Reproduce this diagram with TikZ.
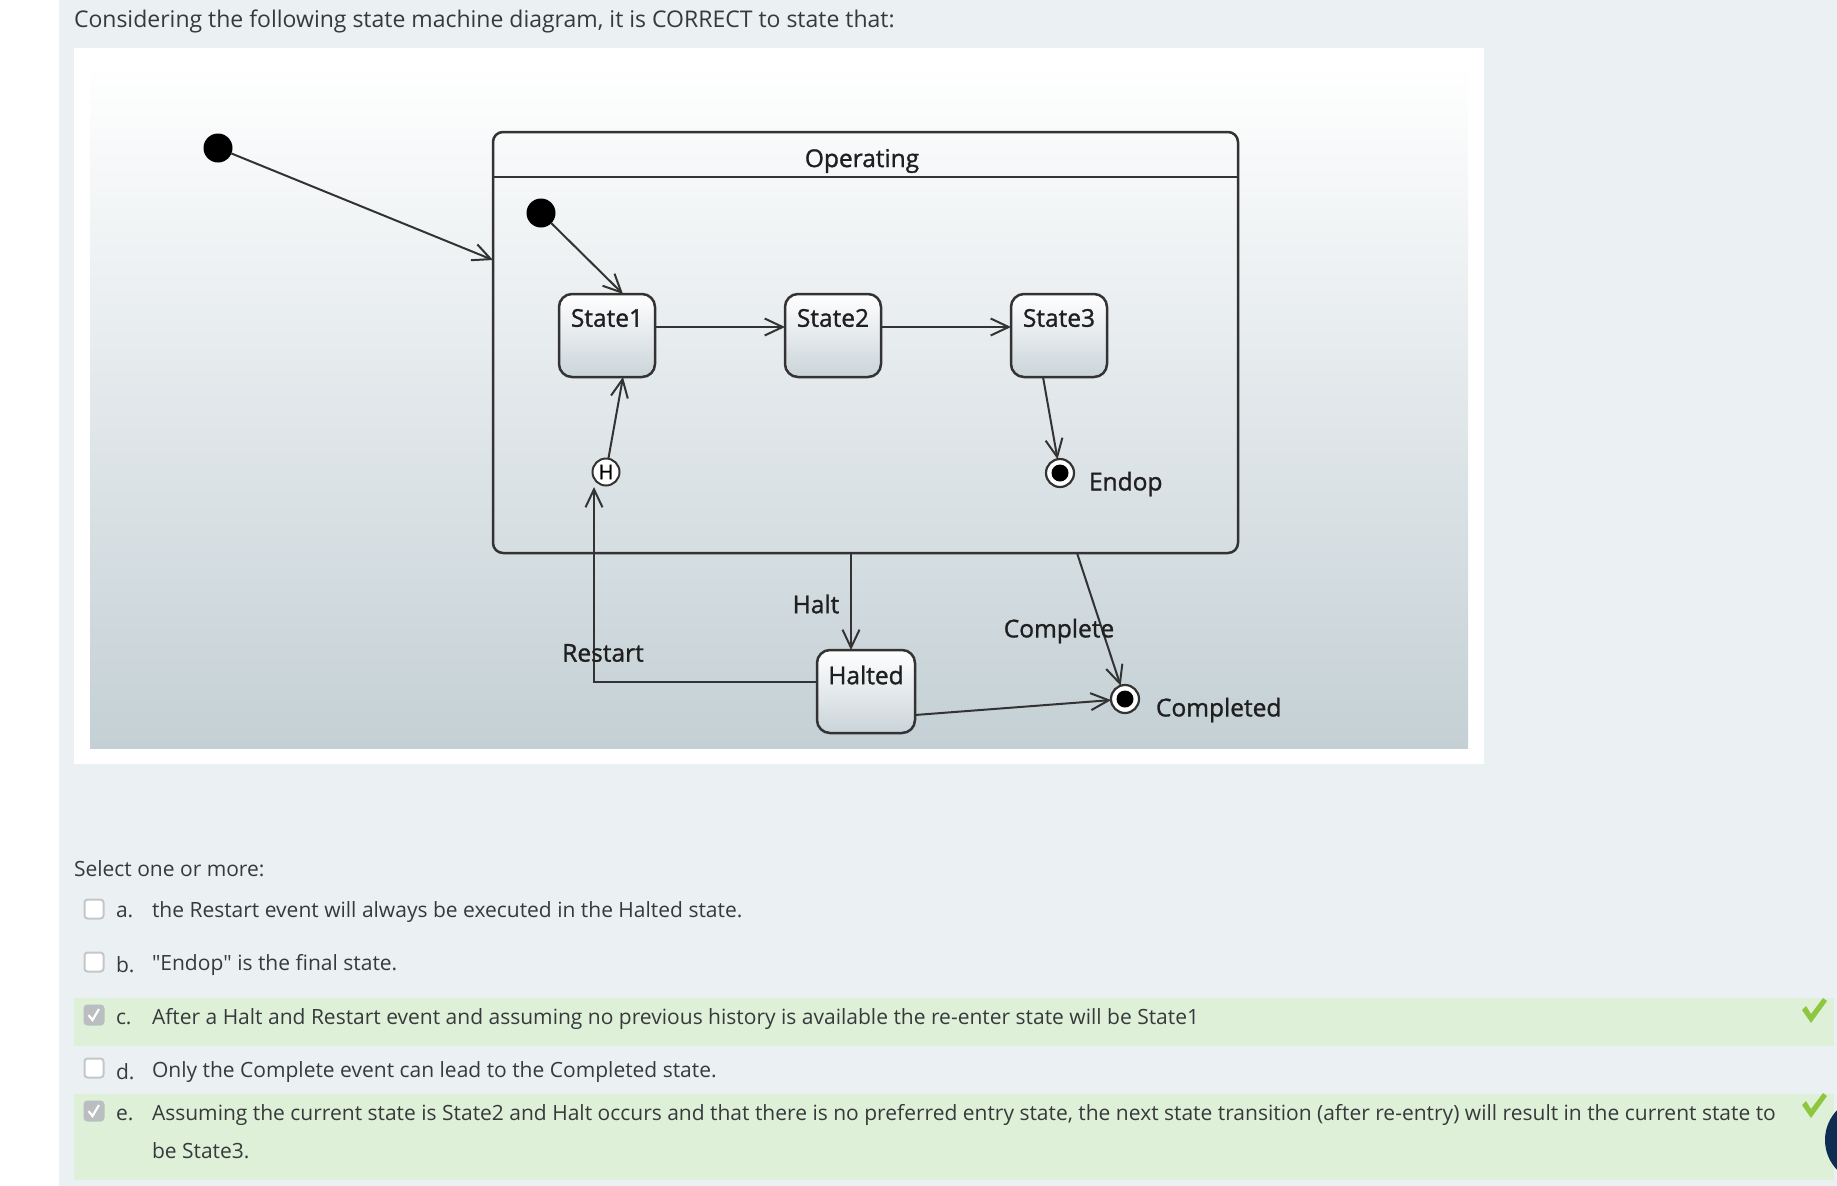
\documentclass[tikz,border=0pt]{standalone}
\usepackage{fontspec}
\setmainfont{Open Sans}
\newfontfamily\rawos{Open Sans}
\newfontfamily\dfont{Open Sans}[FakeBold=1.2]
\usetikzlibrary{arrows.meta,calc}
\definecolor{pagebg}{HTML}{EBF0F3}
\definecolor{txt}{HTML}{373A3C}
\definecolor{okbg}{HTML}{DFF0D8}
\definecolor{okmark}{HTML}{8DC63F}
\definecolor{panelbot}{HTML}{C4D0D5}
\definecolor{statebot}{HTML}{CAD4D9}
\definecolor{linec}{HTML}{333333}
\definecolor{navy}{HTML}{0F2D52}
\definecolor{boxline}{HTML}{C3C7CB}
\definecolor{boxchk}{HTML}{BABEC0}
\begin{document}
\begin{tikzpicture}[x=1pt,y=-1pt,
  every node/.style={inner sep=0pt,outer sep=0pt},
  tip/.style={-{Straight Barb[length=18pt,width=17pt,line width=2pt]}},
  conn/.style={draw=linec,line width=2pt},
  arr/.style={conn,tip},
  statebox/.style={draw=linec,line width=2.5pt,rounded corners=13pt,minimum width=96pt,minimum height=83pt,top color=white,bottom color=statebot},
  statelbl/.style={font=\dfont\fontsize{24.5}{24.5}\selectfont,text=black!88},
  dlbl/.style={font=\dfont\fontsize{24.5}{24.5}\selectfont,text=black!88},
  initst/.style={circle,fill=black,minimum size=29pt},
  finalst/.style={circle,draw=linec,line width=2.2pt,fill=white,minimum size=28pt,path picture={\fill[black] (path picture bounding box.center) circle (8.5pt);}},
  histst/.style={circle,draw=linec,line width=2pt,fill=white,minimum size=27pt,font=\dfont\fontsize{20}{20}\selectfont},
  qtext/.style={font=\fontsize{23}{23}\selectfont,text=txt,anchor=west},
  otext/.style={font=\fontsize{21}{21}\selectfont,text=txt,anchor=west},
  cbox/.style={draw=boxline,line width=2pt,fill=white,rounded corners=3pt,minimum size=19pt},
  cboxon/.style={draw=boxchk,line width=2pt,fill=boxchk,rounded corners=3pt,minimum size=19pt},
]
\useasboundingbox (0,0) rectangle (1837,1186);
\clip (0,0) rectangle (1837,1186);
\fill[white] (0,0) rectangle (1837,1186);
\fill[pagebg] (59,0) rectangle (1837,1186);
\node[qtext] (q) at (74,21) {Considering the following state machine diagram, it is CORRECT to state that:};
\fill[white] (74,48) rectangle (1484,764);
\shade[top color=white,bottom color=panelbot] (90,64) rectangle (1468,748);

% composite state
\node[draw=linec,line width=2.5pt,rounded corners=10pt,minimum width=745pt,minimum height=421pt] (op) at (865.5,342.5) {};
\draw[conn] ([yshift=-45pt]op.north west) -- ([yshift=-45pt]op.north east);
\node[dlbl] (optitle) at (862,161) {Operating};

\node[initst] (init1) at (218,148) {};
\node[initst] (init2) at (541,213) {};

\node[statebox] (s1) at (607,335.5) {};
\node[statelbl] (s1t) at ([yshift=-24pt]s1.north) {State1};
\node[statebox] (s2) at (833,335.5) {};
\node[statelbl] (s2t) at ([yshift=-24pt]s2.north) {State2};
\node[statebox] (s3) at (1059,335.5) {};
\node[statelbl] (s3t) at ([yshift=-24pt]s3.north) {State3};

\node[histst] (hist) at (606,472) {H};
\node[finalst] (endop) at (1060,473) {};
\node[statebox,minimum width=98pt] (halted) at (866,691.5) {};
\node[statelbl] (haltedt) at ([yshift=-25pt]halted.north) {Halted};
\node[finalst] (completed) at (1125,699) {};

% connectors
\draw[arr] (init1) -- ([yshift=82.5pt]op.west);
\draw[arr] (init2) -- ([xshift=16pt]s1.north);
\draw[arr] ([yshift=8.5pt]s1.east) -- ([yshift=8.5pt]s2.west);
\draw[arr] ([yshift=8.5pt]s2.east) -- ([yshift=8.5pt]s3.west);
\draw[arr] ([xshift=-16pt]s3.south) -- (endop);
\draw[arr] (hist) -- ([xshift=16pt]s1.south);
\coordinate (hin) at (594,487);
\draw[arr] ([yshift=9.5pt]halted.west) -| (hin);
\draw[arr] ([xshift=-15pt]halted.north |- op.south) -- ([xshift=-15pt]halted.north);
\draw[arr] ([xshift=211.5pt]op.south) -- (completed);
\draw[arr] ([yshift=-23.5pt]halted.east) -- (completed);

% labels
\node[dlbl] (lhalt) at (816,604) {Halt};
\node[dlbl] (lrestart) at (603,653) {Restart};
\node[dlbl] (lcomplete) at (1059,631) {Complete};
\node[dlbl,anchor=west] (lendop) at (1089,484) {Endop};
\node[dlbl,anchor=west] (lcompleted) at (1156,710) {Completed};

% answers
\node[otext] (sel) at (74,869) {Select one or more:};
\fill[okbg] (74,998) rectangle (1834,1046);
\fill[okbg] (74,1094) rectangle (1834,1180);

\node[cbox] (cba) at (94,909) {};
\node[cbox] (cbb) at (94,962) {};
\node[cboxon] (cbc) at (94,1015) {};
\node[cbox] (cbd) at (94,1068) {};
\node[cboxon] (cbe) at (94,1111) {};
\draw[white,line width=2.2pt] (88.5,1015) -- (92.5,1020) -- (99,1009);
\draw[white,line width=2.2pt] (88.5,1111) -- (92.5,1116) -- (99,1105);

\node[otext] (la) at (116,912) {a.};
\node[otext] (lb) at (116,965) {b.};
\node[otext] (lc) at (116,1019) {c.};
\node[otext] (ld) at (116,1072) {d.};
\node[otext] (le) at (116,1115) {e.};

\node[otext] (ta) at (152,912) {the Restart event will always be executed in the Halted state.};
\node[otext] (tb) at (152,965) {{\rawos"}Endop{\rawos"} is the final state.};
\node[otext] (tc) at (152,1019) {After a Halt and Restart event and assuming no previous history is available the re-enter state will be State1};
\node[otext] (td) at (152,1072) {Only the Complete event can lead to the Completed state.};
\node[otext] (te) at (152,1115) {Assuming the current state is State2 and Halt occurs and that there is no preferred entry state, the next state transition (after re-entry) will result in the current state to};
\node[otext] (te2) at (152,1151) {be State3.};

\fill[okmark] (1802,1010) -- (1806,1006) -- (1811,1014) -- (1823,998) -- (1827,1001) -- (1811,1023) -- cycle;
\fill[okmark] (1802,1105) -- (1806,1101) -- (1811,1109) -- (1823,1093) -- (1827,1096) -- (1811,1118) -- cycle;
\fill[navy] (1868,1140) circle (43);
\end{tikzpicture}
\end{document}
